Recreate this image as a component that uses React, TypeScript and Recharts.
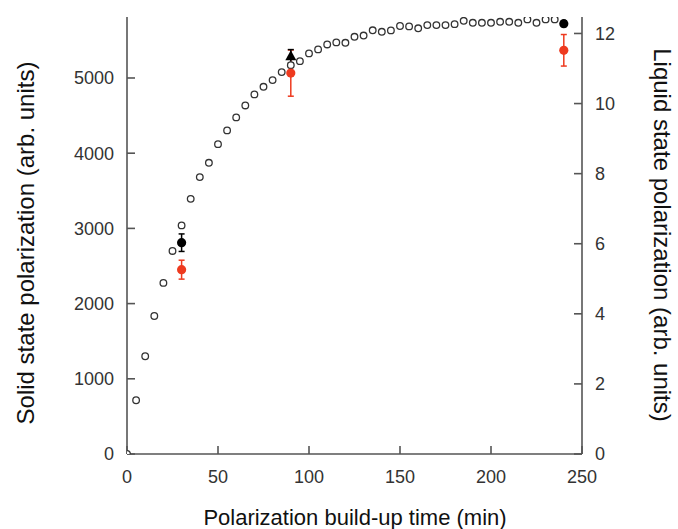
import React from 'react';
import { ScatterChart, Scatter, XAxis, YAxis, ErrorBar, Label } from 'recharts';

// Solid state polarization build-up (left axis), every 5 min
const buildUpTimes = [
  0, 5, 10, 15, 20, 25, 30, 35, 40, 45, 50, 55, 60, 65, 70, 75, 80, 85, 90, 95,
  100, 105, 110, 115, 120, 125, 130, 135, 140, 145, 150, 155, 160, 165, 170, 175,
  180, 185, 190, 195, 200, 205, 210, 215, 220, 225, 230, 235,
];
const solidState = [
  0, 715, 1300, 1835, 2275, 2700, 3040, 3393, 3682, 3872, 4120, 4303, 4476, 4635,
  4782, 4883, 4972, 5078, 5171, 5224, 5327, 5380, 5446, 5473, 5468, 5548, 5564,
  5634, 5614, 5633, 5691, 5686, 5661, 5703, 5703, 5703, 5716, 5760, 5734, 5734,
  5734, 5747, 5747, 5734, 5779, 5734, 5779, 5779,
];

// Liquid state polarization (right axis)
const blackCircleTimes = [30, 240];
const blackCircleValues = [6.03, 12.28];
const blackCircleErrors = [0.25, 0.08];

const blackTriangleTimes = [90];
const blackTriangleValues = [11.35];
const blackTriangleErrors = [0.19];

const redTimes = [30, 90, 240];
const redValues = [5.26, 10.87, 11.52];
const redErrors = [0.27, 0.66, 0.45];

const xTicks = [0, 50, 100, 150, 200, 250];
const leftTicks = [0, 1000, 2000, 3000, 4000, 5000];
const rightTicks = [0, 2, 4, 6, 8, 10, 12];

const solidData = buildUpTimes.map((x, i) => ({ x, y: solidState[i] }));
const blackCircleData = blackCircleTimes.map((x, i) => ({ x, y: blackCircleValues[i], err: blackCircleErrors[i] }));
const blackTriangleData = blackTriangleTimes.map((x, i) => ({ x, y: blackTriangleValues[i], err: blackTriangleErrors[i] }));
const redData = redTimes.map((x, i) => ({ x, y: redValues[i], err: redErrors[i] }));

const FONT = '"Liberation Sans", Arial, Helvetica, sans-serif';
const AXIS = '#555';
const TICK_TEXT = '#333';
const RED = '#ee3a1f';

const OpenCircle = (props: any) => (
  <circle cx={props.cx} cy={props.cy} r={3.3} fill="#fff" stroke="#333" strokeWidth={1.3} />
);
const BlackDot = (props: any) => <circle cx={props.cx} cy={props.cy} r={4.6} fill="#000" />;
const RedDot = (props: any) => <circle cx={props.cx} cy={props.cy} r={4.6} fill={RED} />;
const BlackTriangle = (props: any) => {
  const { cx, cy } = props;
  return <polygon points={`${cx},${cy - 6} ${cx - 5.5},${cy + 4} ${cx + 5.5},${cy + 4}`} fill="#000" />;
};

const tickStyle = { fontSize: 18, fill: TICK_TEXT, fontFamily: FONT };

const LeftTitle = () => (
  <text x={25} y={243} transform="rotate(-90 25 243)" textAnchor="middle" dominantBaseline="central"
    fontSize={24} fill="#111" fontFamily={FONT}>Solid state polarization (arb. units)</text>
);
const RightTitle = () => (
  <text x={662} y={235} transform="rotate(90 662 235)" textAnchor="middle" dominantBaseline="central"
    fontSize={24} fill="#111" fontFamily={FONT}>Liquid state polarization (arb. units)</text>
);
const BottomTitle = () => (
  <text x={355} y={517} textAnchor="middle" dominantBaseline="central"
    fontSize={22} fill="#111" fontFamily={FONT}>Polarization build-up time (min)</text>
);

export default function App() {
  return (
    <div style={{ position: 'absolute', left: 0, top: 0, width: 678, height: 529, background: '#fff' }}>
      <ScatterChart width={678} height={529} margin={{ top: 17, right: 0, bottom: 0, left: 0 }}>
        <XAxis
          type="number"
          dataKey="x"
          domain={[0, 250]}
          ticks={xTicks}
          height={75}
          stroke={AXIS}
          strokeWidth={1.6}
          tickSize={-8}
          tickMargin={24}
          tick={tickStyle}
          allowDataOverflow
        >
          <Label content={BottomTitle} />
        </XAxis>
        <YAxis
          yAxisId="left"
          type="number"
          dataKey="y"
          domain={[0, 5811]}
          ticks={leftTicks}
          width={127}
          stroke={AXIS}
          strokeWidth={1.6}
          tickSize={-8}
          tickMargin={21}
          tick={tickStyle}
          allowDataOverflow
        >
          <Label content={LeftTitle} />
        </YAxis>
        <YAxis
          yAxisId="right"
          orientation="right"
          type="number"
          dataKey="y"
          domain={[0, 12.47]}
          ticks={rightTicks}
          width={96}
          stroke={AXIS}
          strokeWidth={1.6}
          tickSize={-8}
          tickMargin={21}
          tick={tickStyle}
          allowDataOverflow
        >
          <Label content={RightTitle} />
        </YAxis>
        <Scatter yAxisId="left" data={solidData} shape={OpenCircle} isAnimationActive={false} />
        <Scatter yAxisId="right" data={redData} shape={RedDot} isAnimationActive={false}>
          <ErrorBar dataKey="err" direction="y" width={3} stroke={RED} strokeWidth={1.5} />
        </Scatter>
        <Scatter yAxisId="right" data={blackCircleData} shape={BlackDot} isAnimationActive={false}>
          <ErrorBar dataKey="err" direction="y" width={3} stroke="#000" strokeWidth={1.5} />
        </Scatter>
        <Scatter yAxisId="right" data={blackTriangleData} shape={BlackTriangle} isAnimationActive={false}>
          <ErrorBar dataKey="err" direction="y" width={3} stroke="#000" strokeWidth={1.5} />
        </Scatter>
      </ScatterChart>
    </div>
  );
}
